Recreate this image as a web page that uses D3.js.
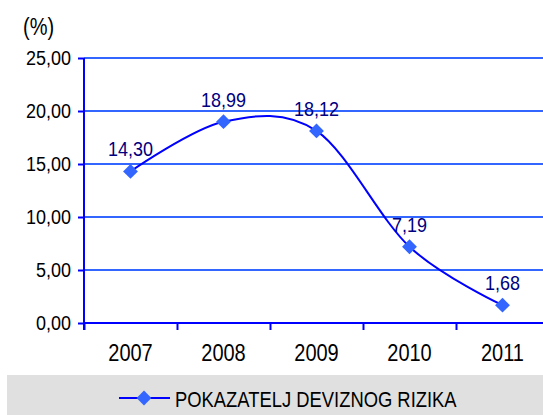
<!DOCTYPE html>
<html>
<head>
<meta charset="utf-8">
<script src="https://cdn.jsdelivr.net/npm/d3@7"></script>
<style>
  body { margin: 0; background: #fff; }
  text { font-family: "Liberation Sans", Arial, sans-serif; }
  /* reference text is a bit taller than it is wide */
  .tall { transform-box: fill-box; transform-origin: center; transform: scaleY(1.15); }
</style>
</head>
<body>
<div id="chart"></div>
<script>
// chart data
var years = ["2007", "2008", "2009", "2010", "2011"];
var values = [14.30, 18.99, 18.12, 7.19, 1.68];
var labels = ["14,30", "18,99", "18,12", "7,19", "1,68"];
var yTicks = [0, 5, 10, 15, 20, 25];
var seriesName = "POKAZATELJ DEVIZNOG RIZIKA";

var svgWidth = 543, svgHeight = 415;
var margin = { top: 58, left: 84 };
var plotW = 465, plotH = 265;

var svg = d3.select("#chart").append("svg")
    .attr("width", svgWidth)
    .attr("height", svgHeight);

var chart = svg.append("g")
    .attr("transform", "translate(" + margin.left + "," + margin.top + ")");

var x = d3.scaleBand().domain(years).range([0, plotW]);
var xEdge = d3.scaleLinear().domain([0, years.length]).range([0, plotW]);
var y = d3.scaleLinear().domain([0, 25]).range([plotH, 0]);

// gridlines
chart.selectAll(".grid")
    .data(yTicks.filter(d => d > 0))
    .enter().append("line")
    .attr("x1", 0).attr("x2", plotW)
    .attr("y1", d => y(d)).attr("y2", d => y(d))
    .attr("stroke", "#3366ff")
    .attr("stroke-width", 2);

// y axis
var yAxis = chart.append("g")
    .call(d3.axisLeft(y).tickValues(yTicks).tickSize(6).tickPadding(7)
        .tickFormat(d => d3.format(".2f")(d).replace(".", ",")));
yAxis.select(".domain").attr("stroke", "#0000ff").attr("stroke-width", 2)
    .attr("d", "M0," + (plotH + 7) + "V" + y(25));
yAxis.selectAll(".tick line").attr("stroke", "#0000ff").attr("stroke-width", 2);
yAxis.selectAll("text").attr("font-size", 18).attr("fill", "#000").attr("class", "tall");

// x axis: tick marks on category edges
var xTicks = chart.append("g")
    .attr("transform", "translate(0," + plotH + ")")
    .call(d3.axisBottom(xEdge).tickValues(d3.range(years.length + 1)).tickSize(7).tickFormat(""));
xTicks.select(".domain").attr("stroke", "#0000ff").attr("stroke-width", 2)
    .attr("d", "M0,0H" + plotW);
xTicks.selectAll(".tick line").attr("stroke", "#0000ff").attr("stroke-width", 2);

// x labels
var xAxis = chart.append("g")
    .attr("transform", "translate(0," + plotH + ")")
    .call(d3.axisBottom(x).tickSize(0).tickPadding(23));
xAxis.select(".domain").remove();
xAxis.selectAll("text").attr("font-size", 20).attr("fill", "#000").attr("class", "tall");

// unit label
svg.append("text")
    .attr("class", "tall")
    .attr("x", 23).attr("y", 34)
    .attr("font-size", 20)
    .text("(%)");

// line
var line = d3.line()
    .x((d, i) => x(years[i]) + x.bandwidth() / 2)
    .y(d => y(d))
    .curve(d3.curveCardinal.tension(0));

chart.append("path")
    .datum(values)
    .attr("d", line)
    .attr("fill", "none")
    .attr("stroke", "#0000ff")
    .attr("stroke-width", 2);

var diamond = d3.symbol().type(d3.symbolSquare).size(110);

chart.selectAll(".marker")
    .data(values)
    .enter().append("path")
    .attr("d", diamond)
    .attr("transform", (d, i) => "translate(" + (x(years[i]) + x.bandwidth() / 2) + "," + y(d) + ") rotate(45)")
    .attr("fill", "#3366ff");

// data labels
chart.selectAll(".dlabel")
    .data(values)
    .enter().append("text")
    .attr("class", "tall")
    .attr("x", (d, i) => x(years[i]) + x.bandwidth() / 2)
    .attr("y", d => y(d) - 16)
    .attr("text-anchor", "middle")
    .attr("font-size", 18)
    .attr("fill", "#000080")
    .text((d, i) => labels[i]);

// legend
var legend = svg.append("g");
legend.append("rect")
    .attr("x", 7).attr("y", 375)
    .attr("width", svgWidth).attr("height", 40)
    .attr("fill", "#e0e0e0");
legend.append("line")
    .attr("x1", 119).attr("x2", 170)
    .attr("y1", 398).attr("y2", 398)
    .attr("stroke", "#0000ff").attr("stroke-width", 2);
legend.append("path")
    .attr("d", diamond)
    .attr("transform", "translate(144,398) rotate(45)")
    .attr("fill", "#3366ff");
legend.append("text")
    .attr("class", "tall")
    .attr("x", 175).attr("y", 406)
    .attr("font-size", 18.4)
    .text(seriesName);
</script>
</body>
</html>
